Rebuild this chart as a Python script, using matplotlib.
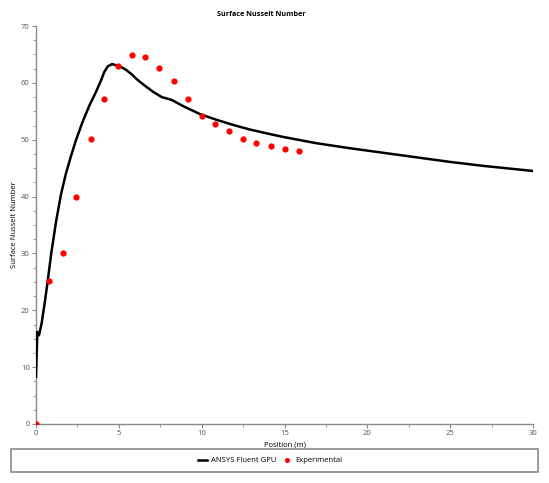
import matplotlib.pyplot as plt
from matplotlib.patches import Rectangle
from matplotlib.ticker import MultipleLocator

plt.rcParams['font.family'] = ['Open Sans', 'DejaVu Sans']

# ANSYS Fluent GPU curve
sim_x = [0.0, 0.08, 0.18, 0.34, 0.54, 0.7, 0.92, 1.21, 1.51, 1.81, 2.11, 2.41,
         2.82, 3.22, 3.62, 3.92, 4.12, 4.33, 4.59, 4.83, 5.07, 5.43, 5.78, 6.1,
         6.48, 7.08, 7.59, 8.19, 8.89, 9.9, 10.9, 11.9, 12.9, 14.1, 14.9, 16.9,
         18.95, 20.96, 22.97, 24.98, 26.99, 29.0, 30.0]
sim_nu = [8.3, 16.2, 15.6, 17.7, 21.6, 25.0, 30.0, 35.6, 40.4, 44.1, 47.1, 49.9,
          53.2, 56.0, 58.4, 60.4, 61.9, 62.9, 63.3, 63.1, 62.9, 62.3, 61.5, 60.6,
          59.7, 58.4, 57.5, 57.0, 55.9, 54.5, 53.5, 52.6, 51.8, 51.0, 50.5, 49.4,
          48.5, 47.7, 46.9, 46.1, 45.4, 44.8, 44.5]

# Experimental points
exp_x = [0.0, 0.8, 1.6, 2.4, 3.3, 4.1, 4.95, 5.8, 6.6, 7.45, 8.3, 9.15, 10.0,
         10.8, 11.65, 12.5, 13.3, 14.2, 15.0, 15.9]
exp_nu = [0.0, 25.1, 30.0, 40.0, 50.2, 57.2, 63.0, 64.9, 64.5, 62.7, 60.4, 57.1,
          54.1, 52.7, 51.5, 50.2, 49.4, 48.9, 48.4, 48.0]

W, H = 549, 483
fig = plt.figure(figsize=(W / 100, H / 100), dpi=100)
ax = fig.add_axes([36 / W, 1 - 424 / H, (533 - 36) / W, (424 - 26) / H])

ax.plot(sim_x, sim_nu, color='black', lw=1.8, label='ANSYS Fluent GPU',
        zorder=3, solid_joinstyle='round')
ax.plot(exp_x, exp_nu, 'o', color='#ff0000', ms=4.5, mec='none',
        label='Experimental', zorder=4)

ax.set_xlim(0, 30)
ax.set_ylim(0, 70)
ax.xaxis.set_major_locator(MultipleLocator(5))
ax.xaxis.set_minor_locator(MultipleLocator(2.5))
ax.yaxis.set_major_locator(MultipleLocator(10))
ax.yaxis.set_minor_locator(MultipleLocator(2.5))

for s in ['top', 'right']:
    ax.spines[s].set_visible(False)
for s in ['left', 'bottom']:
    ax.spines[s].set_color('#8a8a8a')
    ax.spines[s].set_linewidth(1.0)
ax.tick_params(which='both', colors='#8a8a8a', labelcolor='#555555',
               labelsize=5.5, direction='out', pad=1.5)
ax.tick_params(which='major', length=3)
ax.tick_params(which='minor', length=2)

fig.text(261 / W, 1 - 15 / H, 'Surface Nusselt Number', fontsize=5.2,
         fontweight='bold', ha='center', va='center')
ax.set_xlabel('Position (m)', fontsize=5.5, labelpad=3)
ax.set_ylabel('Surface Nusselt Number', fontsize=5.5)
ax.yaxis.set_label_coords(-18 / 497, 0.5)

# legend box below the plot
fig.patches.append(Rectangle((11 / W, 1 - 472 / H), 527 / W, 23 / H,
                             transform=fig.transFigure, fill=False,
                             edgecolor='#8a8a8a', lw=1.2))
fig.legend(loc='center', bbox_to_anchor=(270 / W, 1 - 460.5 / H), ncol=2,
           frameon=False, fontsize=5.5, handlelength=1.2, handletextpad=0.5,
           columnspacing=0.8, markerscale=0.8)

fig.savefig('out.png', dpi=100)
